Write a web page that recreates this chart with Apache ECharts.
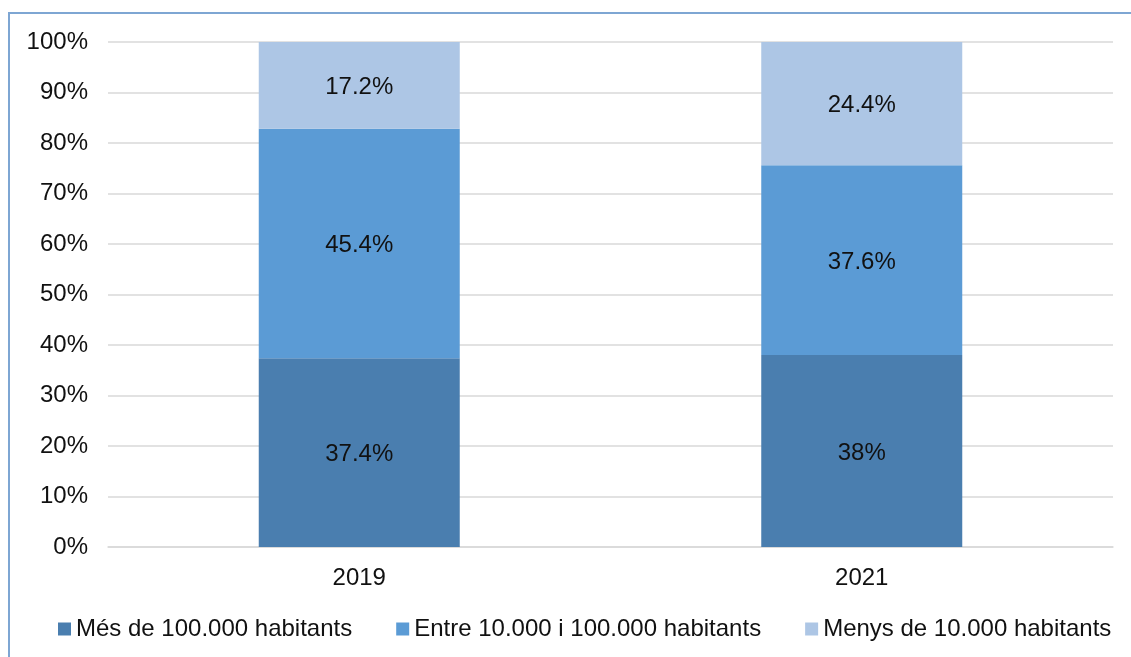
<!DOCTYPE html>
<html>
<head>
<meta charset="utf-8">
<script src="https://cdn.jsdelivr.net/npm/echarts@6/dist/echarts.min.js"></script>
<style>
html,body{margin:0;padding:0;background:#fff;}
#frame{position:absolute;left:8px;top:12px;width:1140px;height:660px;border-left:2px solid #7ea6d3;border-top:2px solid #7ea6d3;}
#chart{position:absolute;left:0;top:0;width:1131px;height:657px;}
</style>
</head>
<body>
<div id="frame"></div>
<div id="chart"></div>
<script>
const categories = ['2019', '2021'];
const seriesNames = ['Més de 100.000 habitants', 'Entre 10.000 i 100.000 habitants', 'Menys de 10.000 habitants'];
const valuesLarge = [37.4, 38];
const valuesMid = [45.4, 37.6];
const valuesSmall = [17.2, 24.4];
const yTicks = [0, 10, 20, 30, 40, 50, 60, 70, 80, 90, 100];
const colors = ['#4a7eaf', '#5b9bd5', '#adc6e5'];

const font = 'Liberation Sans, Arial, sans-serif';
const chart = echarts.init(document.getElementById('chart'));
function mk(name, data, color) {
  return {
    name: name, type: 'bar', stack: 'total', data: data, barWidth: '40%',
    itemStyle: { color: color },
    label: { show: true, position: 'inside', formatter: p => p.value + '%', color: '#111', fontSize: 24, fontFamily: font, offset: [0, 2] },
    emphasis: { disabled: true }
  };
}
chart.setOption({
  animation: false,
  grid: { left: 108, right: 18, top: 42, bottom: 110 },
  legend: {
    top: 612, left: 53, itemWidth: 13, itemHeight: 13, itemGap: 44, icon: 'rect',
    textStyle: { fontSize: 24, fontFamily: font, color: '#111', padding: [0, 0, 0, 0] },
    data: seriesNames
  },
  xAxis: {
    type: 'category', data: categories,
    axisLine: { lineStyle: { color: '#d9d9d9', width: 1.5 } },
    axisTick: { show: false },
    axisLabel: { fontSize: 24, fontFamily: font, color: '#111', margin: 19 }
  },
  yAxis: {
    type: 'value', min: 0, max: 100, interval: 10,
    axisLabel: { formatter: v => v + '%', fontSize: 24, fontFamily: font, color: '#111', margin: 20 },
    splitLine: { lineStyle: { color: '#d9d9d9', width: 1.5 } },
    axisLine: { show: false }, axisTick: { show: false }
  },
  series: [
    mk(seriesNames[0], valuesLarge, colors[0]),
    mk(seriesNames[1], valuesMid, colors[1]),
    mk(seriesNames[2], valuesSmall, colors[2])
  ]
});
</script>
</body>
</html>
